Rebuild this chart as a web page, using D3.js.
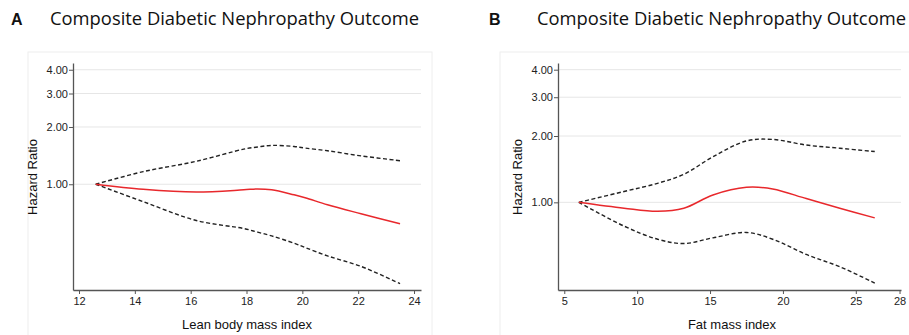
<!DOCTYPE html>
<html>
<head>
<meta charset="utf-8">
<script src="https://cdn.jsdelivr.net/npm/d3@7"></script>
<style>
  body { margin: 0; background: #fff; }
  svg { display: block; }
  .tick text { font-family: "Liberation Sans", Arial, sans-serif; font-size: 11px; fill: #222; }
  .axis-title { font-family: "Liberation Sans", Arial, sans-serif; font-size: 13px; fill: #111; }
</style>
</head>
<body>
<div id="chart"></div>
<script>
// Panel A: lean body mass index
const leanX = [12.6, 14.3, 16.2, 17.9, 18.4, 18.9, 19.7, 20.1, 20.9, 22.1, 23.5]
const leanHR = [1.00, 0.94, 0.91, 0.935, 0.945, 0.935, 0.88, 0.85, 0.78, 0.70, 0.62]
const leanUpper = [1.00, 1.165, 1.32, 1.53, 1.57, 1.60, 1.58, 1.55, 1.50, 1.41, 1.33]
const leanLower = [1.00, 0.81, 0.645, 0.585, 0.56, 0.535, 0.49, 0.465, 0.42, 0.37, 0.30]

// Panel B: fat mass index
const fatX = [6.0, 9.1, 11.4, 13.2, 15.2, 17.5, 19.3, 21.6, 23.9, 26.3]
const fatHR = [1.00, 0.94, 0.91, 0.94, 1.08, 1.17, 1.15, 1.04, 0.94, 0.85]
const fatUpper = [1.00, 1.12, 1.22, 1.34, 1.61, 1.90, 1.93, 1.82, 1.76, 1.70]
const fatLower = [1.00, 0.78, 0.68, 0.65, 0.69, 0.73, 0.68, 0.58, 0.51, 0.43]

const hrTicks = [1, 2, 3, 4]
const leanTicks = [12, 14, 16, 18, 20, 22, 24]
const fatTicks = [5, 10, 15, 20, 25, 28]

const width = 909
const height = 335

const svg = d3.select("#chart")
    .append("svg")
    .attr("width", width)
    .attr("height", height)

function drawPanel(p) {
    const g = svg.append("g")

    // faint frame
    g.append("rect")
        .attr("x", p.frame[0])
        .attr("y", 52)
        .attr("width", p.frame[1] - p.frame[0])
        .attr("height", 300)
        .attr("fill", "none")
        .attr("stroke", "#eeeeee")

    // panel letter + title
    g.append("text")
        .attr("x", p.letterX)
        .attr("y", 25)
        .attr("font-family", "Liberation Sans, Arial, sans-serif")
        .attr("font-weight", "bold")
        .attr("font-size", 16)
        .attr("fill", "#111")
        .text(p.letter)
    g.append("text")
        .attr("x", p.titleX)
        .attr("y", 25)
        .attr("font-family", "Open Sans, sans-serif")
        .attr("font-size", 18)
        .attr("fill", "#111")
        .attr("textLength", 369)
        .attr("lengthAdjust", "spacingAndGlyphs")
        .text("Composite Diabetic Nephropathy Outcome")

    const x = d3.scaleLinear().domain(p.xDomain).range([p.left, p.right])
    const y = d3.scaleLog().domain(p.yDomain).range([290, 63])

    // gridlines
    g.selectAll(".grid")
        .data(hrTicks)
        .enter()
        .append("line")
        .attr("x1", p.left)
        .attr("x2", p.right)
        .attr("y1", d => y(d))
        .attr("y2", d => y(d))
        .attr("stroke", "#e6e6e6")

    // axes
    const yAxis = d3.axisLeft(y).tickValues(hrTicks).tickFormat(d3.format(".2f")).tickSize(4).tickSizeOuter(0)
    const xAxis = d3.axisBottom(x).tickValues(p.xTicks).tickFormat(d3.format("d")).tickSize(4).tickSizeOuter(0)

    const ya = g.append("g")
        .attr("transform", `translate(${p.left},0)`)
        .call(yAxis)
    const xa = g.append("g")
        .attr("transform", "translate(0,290)")
        .call(xAxis)
    ;[ya, xa].forEach(a => {
        a.select(".domain").attr("stroke", "#555").attr("stroke-width", 1.3)
        a.selectAll(".tick line").attr("stroke", "#555")
    })
    ya.selectAll(".tick text").attr("x", -5)
    xa.selectAll(".tick text").attr("y", 7)

    // axis titles
    g.append("text")
        .attr("class", "axis-title")
        .attr("text-anchor", "middle")
        .attr("transform", `translate(${p.yTitleX},177) rotate(-90)`)
        .text("Hazard Ratio")
    g.append("text")
        .attr("class", "axis-title")
        .attr("text-anchor", "middle")
        .attr("x", p.xTitleX)
        .attr("y", 329)
        .text(p.xTitle)

    const line = (xs) => d3.line()
        .x((d, i) => x(xs[i]))
        .y(d => y(d))
        .curve(d3.curveCatmullRom.alpha(0.5))

    g.append("path")
        .datum(p.upper)
        .attr("d", line(p.xs))
        .attr("fill", "none")
        .attr("stroke", "#222")
        .attr("stroke-width", 1.4)
        .attr("stroke-dasharray", "4,2.5")
    g.append("path")
        .datum(p.lower)
        .attr("d", line(p.xs))
        .attr("fill", "none")
        .attr("stroke", "#222")
        .attr("stroke-width", 1.4)
        .attr("stroke-dasharray", "4,2.5")
    g.append("path")
        .datum(p.hr)
        .attr("d", line(p.xs))
        .attr("fill", "none")
        .attr("stroke", "#e8282c")
        .attr("stroke-width", 1.5)
}

drawPanel({
    letter: "A", letterX: 11, titleX: 50, frame: [28, 432],
    left: 73, right: 421, xDomain: [11.785, 24.25], yDomain: [0.278, 4.34],
    xTicks: leanTicks, xTitle: "Lean body mass index", xTitleX: 247, yTitleX: 37,
    xs: leanX, hr: leanHR, upper: leanUpper, lower: leanLower
})

drawPanel({
    letter: "B", letterX: 489, titleX: 537, frame: [500, 930],
    left: 558, right: 901, xDomain: [4.57, 28.1], yDomain: [0.40, 4.29],
    xTicks: fatTicks, xTitle: "Fat mass index", xTitleX: 732, yTitleX: 522,
    xs: fatX, hr: fatHR, upper: fatUpper, lower: fatLower
})
</script>
</body>
</html>
